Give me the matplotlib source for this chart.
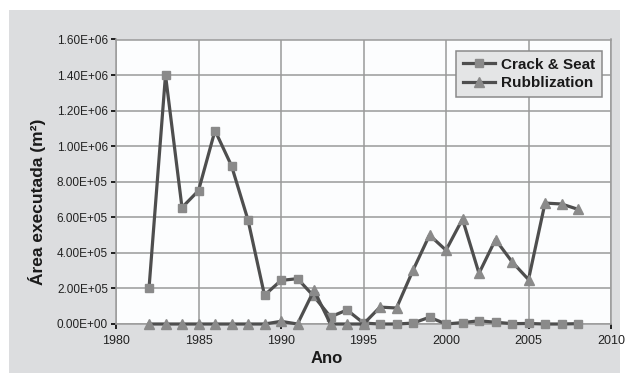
import matplotlib
matplotlib.use("Agg")
import matplotlib.pyplot as plt
from matplotlib.ticker import FuncFormatter, MultipleLocator

plt.rcParams['font.family'] = ['Liberation Sans', 'DejaVu Sans']

years = list(range(1982, 2009))
crack_seat = [2.0e5, 1.40e6, 6.55e5, 7.5e5, 1.088e6, 8.9e5, 5.85e5, 1.62e5, 2.45e5, 2.55e5,
              1.55e5, 4.0e4, 7.9e4, 5.0e3, 0, 0, 5.0e3, 3.8e4, 0, 8.0e3,
              1.8e4, 1.0e4, 2.0e3, 3.0e3, 0, 0, 2.0e3]
rubblization = [0, 0, 0, 0, 0, 0, 0, 0, 1.5e4, 0,
                1.9e5, 0, 0, 0, 9.5e4, 9.0e4, 3.02e5, 5.0e5, 4.15e5, 5.9e5,
                2.85e5, 4.75e5, 3.5e5, 2.5e5, 6.8e5, 6.75e5, 6.45e5]

x_ticks = [1980, 1985, 1990, 1995, 2000, 2005, 2010]

fig = plt.figure(figsize=(6.29, 3.73), dpi=100)
fig.patch.set_facecolor('white')

# grey panel behind the chart
bg = fig.add_axes([9 / 629, 0, (620 - 9) / 629, (373 - 10) / 373], zorder=0)
bg.set_facecolor('#dcdddf')
bg.set_xticks([])
bg.set_yticks([])
for s in bg.spines.values():
    s.set_visible(False)

ax = fig.add_axes([116 / 629, 1 - 324 / 373, 495 / 629, 284.5 / 373], zorder=1)
ax.set_facecolor('#fcfdfe')

line_col = '#4e4e4e'
mark_col = '#8a8a8a'

ax.plot(years, crack_seat, color=line_col, lw=2.3, marker='s', ms=5.8,
        mfc=mark_col, mec=mark_col, label='Crack & Seat', zorder=3, clip_on=False)
ax.plot(years, rubblization, color=line_col, lw=2.3, marker='^', ms=7.5,
        mfc=mark_col, mec=mark_col, label='Rubblization', zorder=3, clip_on=False)

ax.set_xlim(1980, 2010)
ax.set_ylim(0, 1.6e6)
ax.set_xticks(x_ticks)
ax.yaxis.set_major_locator(MultipleLocator(2e5))
ax.yaxis.set_major_formatter(FuncFormatter(lambda v, p: f"{v:.2E}"))

ax.grid(True, color='#9a9a9a', lw=1.1)
ax.set_axisbelow(True)
for s in ax.spines.values():
    s.set_color('#9a9a9a')
    s.set_linewidth(1.1)

ax.tick_params(axis='both', direction='out', length=3.8, width=1.3, color='#111111',
               labelcolor='#222222')
ax.tick_params(axis='y', labelsize=8.5, pad=2)
ax.tick_params(axis='x', labelsize=9, pad=4)

ax.set_xlabel('Ano', fontsize=12, fontweight='bold', color='#1a1a1a')
ax.xaxis.set_label_coords(0.425, -0.12)
ax.xaxis.label.set_va('center')
ax.set_ylabel('Área executada (m²)', fontsize=12.5, fontweight='bold', color='#1a1a1a')
ax.yaxis.set_label_coords(-0.16, 0.43)
ax.yaxis.label.set_va('center')

leg = ax.legend(loc='upper right', bbox_to_anchor=(0.982, 0.96),
                prop={'weight': 'bold', 'size': 11}, frameon=True, fancybox=False,
                handlelength=2.1, handletextpad=0.4, borderpad=0.45, labelspacing=0.3,
                borderaxespad=0.0)
leg.get_frame().set_facecolor('#e4e5e6')
leg.get_frame().set_edgecolor('#8a8a8a')
leg.get_frame().set_linewidth(1.1)
leg.get_frame().set_alpha(1.0)
for t in leg.get_texts():
    t.set_color('#1a1a1a')

fig.savefig('out.png', dpi=100)
